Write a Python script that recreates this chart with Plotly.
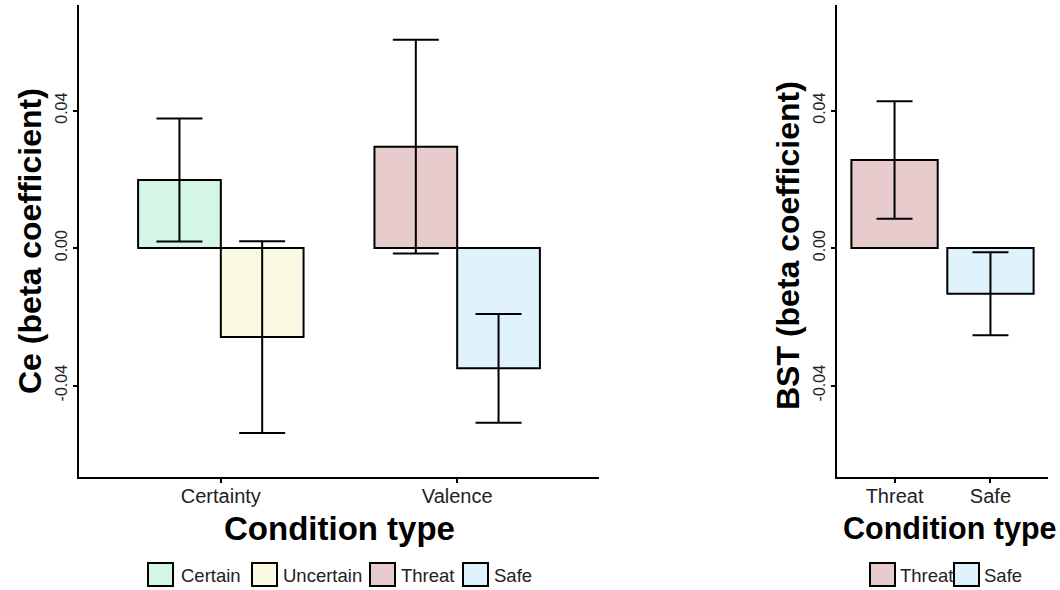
import plotly.graph_objects as go

W, H = 1060, 590

# ---- data ----
left_categories = ["Certainty", "Valence"]
left_series = ["Certain", "Uncertain", "Threat", "Safe"]
left_series_cat = ["Certainty", "Certainty", "Valence", "Valence"]
left_means = [0.0198, -0.0259, 0.0295, -0.0350]
left_se = [0.0179, 0.0279, 0.0311, 0.0158]

right_categories = ["Threat", "Safe"]
right_means = [0.0256, -0.0133]
right_se = [0.0171, 0.0121]

colors = {"Certain": "#D4F7E5", "Uncertain": "#FAFAE2", "Threat": "#E8CBCC", "Safe": "#E0F3FC"}
y_ticks = [-0.04, 0.0, 0.04]
y_ticktext = ["-0.04", "0.00", "0.04"]
y_range = [-0.0666, 0.0707]

FONT = "Liberation Sans, Arial, sans-serif"


def px_x(p):
    return p / W


def px_y(p):
    return 1 - p / H


fig = go.Figure()

# left panel: dodged bars
offsets = [-0.35, 0.0, -0.35, 0.0]
for name, cat, m, se, off in zip(left_series, left_series_cat, left_means, left_se, offsets):
    fig.add_trace(go.Bar(
        x=[cat], y=[m], name=name, width=0.35, offset=off,
        marker=dict(color=colors[name], line=dict(color="black", width=2)),
        error_y=dict(type="data", array=[se], color="black", thickness=2, width=23),
        xaxis="x", yaxis="y", showlegend=False,
    ))

# right panel
for cat, m, se in zip(right_categories, right_means, right_se):
    fig.add_trace(go.Bar(
        x=[cat], y=[m], name=cat, width=0.9,
        marker=dict(color=colors[cat], line=dict(color="black", width=2)),
        error_y=dict(type="data", array=[se], color="black", thickness=2, width=18),
        xaxis="x2", yaxis="y2", showlegend=False,
    ))

axis_common = dict(showline=True, linecolor="black", linewidth=2, showgrid=False,
                   zeroline=False, ticks="outside", ticklen=4, tickwidth=1.5, tickcolor="black")

ydom = [px_y(477), px_y(5)]
fig.update_layout(
    width=W, height=H,
    margin=dict(l=0, r=0, t=0, b=0),
    paper_bgcolor="white", plot_bgcolor="white",
    font=dict(family=FONT, color="black"),
    barmode="overlay",
    xaxis=dict(domain=[px_x(79), px_x(599)], anchor="y", type="category",
               categoryorder="array", categoryarray=left_categories,
               range=[-0.6, 1.6], tickfont=dict(size=20, color="#222"), ticklabelstandoff=-4,
               **axis_common),
    yaxis=dict(domain=ydom, anchor="x", range=y_range, tickvals=y_ticks, ticktext=y_ticktext,
               tickangle=-90, tickfont=dict(size=16, color="#222"), **axis_common),
    xaxis2=dict(domain=[px_x(837), px_x(1048)], anchor="y2", type="category",
                categoryorder="array", categoryarray=right_categories,
                range=[-0.6, 1.6], tickfont=dict(size=20, color="#222"), ticklabelstandoff=-4,
                **axis_common),
    yaxis2=dict(domain=ydom, anchor="x2", range=y_range, tickvals=y_ticks, ticktext=y_ticktext,
                tickangle=-90, tickfont=dict(size=16, color="#222"), **axis_common),
)

annotations = []
shapes = []
ytitle_font = dict(family=FONT, size=32, color="black")
xtitle_font = dict(family=FONT, size=33, color="black")
annotations.append(dict(text="<b>Ce (beta coefficient)</b>", x=px_x(30), y=px_y(241), xref="paper", yref="paper",
                        textangle=-90, showarrow=False, font=ytitle_font, xanchor="center", yanchor="middle"))
annotations.append(dict(text="<b>BST (beta coefficient)</b>", x=px_x(788), y=px_y(245), xref="paper", yref="paper",
                        textangle=-90, showarrow=False, font=ytitle_font, xanchor="center", yanchor="middle"))
annotations.append(dict(text="<b>Condition type</b>", x=px_x(339), y=px_y(528), xref="paper", yref="paper",
                        showarrow=False, font=xtitle_font, xanchor="center", yanchor="middle"))
annotations.append(dict(text="<b>Condition type</b>", x=px_x(1058), y=px_y(528), xref="paper", yref="paper",
                        showarrow=False, font=dict(family=FONT, size=30.5, color="black"),
                        xanchor="right", yanchor="middle"))

# legends (drawn keys)
legend_items = [
    ("Certain", 148, 179), ("Uncertain", 252, 281), ("Threat", 370, 399), ("Safe", 463, 492),
    ("Threat", 870, 898), ("Safe", 954, 982),
]
for name, sx, tx in legend_items:
    shapes.append(dict(type="rect", xref="paper", yref="paper",
                       x0=px_x(sx), x1=px_x(sx + 25), y0=px_y(586), y1=px_y(563),
                       fillcolor=colors[name], line=dict(color="black", width=2)))
    annotations.append(dict(text=name, x=px_x(tx), y=px_y(575), xref="paper", yref="paper",
                            showarrow=False, xanchor="left", yanchor="middle",
                            font=dict(family=FONT, size=18.5, color="#222")))

fig.update_layout(annotations=annotations, shapes=shapes)
fig.write_html("out.html", config={"displayModeBar": False},
               post_script="document.body.style.margin='0';document.body.style.padding='0';")
